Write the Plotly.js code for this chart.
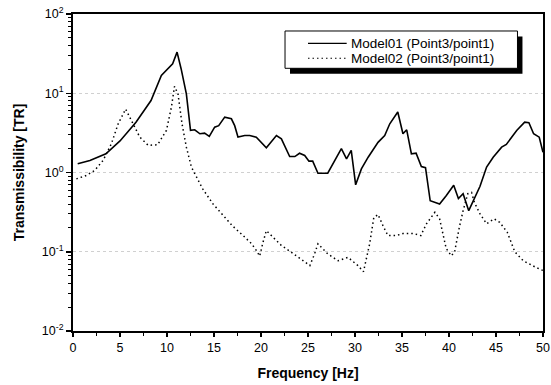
<!DOCTYPE html>
<html>
<head>
<meta charset="utf-8">
<script src="https://cdn.plot.ly/plotly-3.0.1.min.js"></script>
<style>html,body{margin:0;padding:0;background:#fff;}#chart{width:551px;height:385px;}</style>
</head>
<body>
<div id="chart"></div>
<script>
// Model01 (solid) frequency [Hz] and transmissibility
const freq01 = [0.5, 1.8, 3.5, 5.0, 6.7, 8.3, 9.4, 10.1, 10.6, 11.07, 11.5, 12.06, 12.5, 12.95, 13.5, 14.0, 14.5, 15.07, 15.5, 16.14, 16.85, 17.2, 17.55, 18.27, 18.8, 19.5, 20.57, 21.64, 22.17, 23.05, 23.6, 24.1, 24.65, 25.1, 25.5, 26.06, 27.1, 28.55, 29.1, 29.6, 30.07, 30.68, 31.4, 32.45, 33.16, 33.7, 34.55, 35.1, 35.5, 36.0, 36.5, 37.06, 37.5, 38.0, 39.0, 39.7, 40.5, 41.0, 41.5, 42.1, 42.8, 43.3, 44.0, 44.7, 45.6, 46.1, 47.2, 48.05, 48.5, 49.0, 49.6, 50.0];
const model01 = [1.29, 1.42, 1.72, 2.5, 4.3, 8.1, 16.8, 20.4, 23.6, 33, 20.4, 9.8, 3.4, 3.46, 3.08, 3.14, 2.85, 3.73, 3.9, 5.0, 4.76, 3.9, 2.8, 2.93, 2.93, 2.79, 2.05, 2.93, 2.66, 1.59, 1.59, 1.75, 1.64, 1.39, 1.39, 0.98, 0.98, 2.0, 1.49, 1.9, 0.70, 1.11, 1.56, 2.4, 2.93, 4.12, 5.8, 3.08, 3.46, 1.72, 1.75, 1.19, 1.15, 0.44, 0.40, 0.51, 0.69, 0.47, 0.54, 0.33, 0.50, 0.67, 1.17, 1.56, 2.09, 2.26, 3.39, 4.32, 4.25, 3.08, 2.79, 1.8];

// Model02 (dotted)
const freq02 = [0.36, 1.43, 2.3, 3.2, 4.08, 4.8, 5.6, 6.2, 7.1, 8.0, 9.0, 9.94, 10.47, 10.8, 11.17, 11.6, 12.06, 12.6, 13.3, 13.8, 14.9, 15.96, 17.0, 18.1, 19.0, 19.5, 19.86, 20.2, 20.57, 21.1, 22.17, 23.2, 24.3, 25.2, 25.7, 26.06, 27.1, 28.2, 29.26, 30.3, 30.9, 31.56, 32.0, 32.45, 33.0, 33.5, 34.4, 35.1, 36.2, 37.0, 37.6, 38.5, 39.0, 39.4, 39.7, 40.25, 40.6, 41.1, 41.5, 42.0, 42.4, 42.7, 43.3, 44.0, 44.8, 45.4, 46.2, 47.0, 47.9, 49.3, 50.0];
const model02 = [0.83, 0.92, 1.06, 1.42, 2.3, 4.1, 6.3, 4.5, 2.8, 2.2, 2.24, 3.4, 6.7, 12.2, 9.8, 4.1, 2.09, 1.17, 0.79, 0.62, 0.40, 0.29, 0.21, 0.16, 0.126, 0.104, 0.088, 0.13, 0.185, 0.16, 0.12, 0.099, 0.081, 0.067, 0.094, 0.126, 0.094, 0.077, 0.085, 0.067, 0.056, 0.126, 0.27, 0.295, 0.21, 0.16, 0.16, 0.17, 0.17, 0.16, 0.225, 0.315, 0.26, 0.15, 0.11, 0.089, 0.10, 0.204, 0.33, 0.54, 0.56, 0.42, 0.30, 0.225, 0.26, 0.235, 0.176, 0.10, 0.077, 0.063, 0.058];

const seriesNames = ['Model01 (Point3/point1)', 'Model02 (Point3/point1)'];
const yTickVals = [0.01, 0.1, 1, 10, 100];
const yTickText = ['10<sup>-2</sup>', '10<sup>-1</sup>', '10<sup>0</sup>', '10<sup>1</sup>', '10<sup>2</sup>'];
const xTickVals = [0, 5, 10, 15, 20, 25, 30, 35, 40, 45, 50];

// minor log ticks 2..9 in each decade
const yMinor = [];
for (let d = 0; d < yTickVals.length - 1; d++) {
  for (let m = 2; m <= 9; m++) yMinor.push(m * yTickVals[d]);
}

const FONT = 'Arial, "Liberation Sans", sans-serif';
const SOLID = {color: '#000', width: 1.6};
const DOTTED = {color: '#000', width: 1.5, dash: '1.5px,3px'};

const traces = [
  {x: freq01, y: model01, name: seriesNames[0], type: 'scatter', mode: 'lines', line: SOLID},
  {x: freq02, y: model02, name: seriesNames[1], type: 'scatter', mode: 'lines', line: DOTTED}
];

// legend box drawn in paper coordinates (with drop shadow like the original)
const legBox = {x0: 0.4511, x1: 0.9457, y0: 0.8287, y1: 0.9464};
const legShadow = {dx: 0.0106, dy: -0.0175};
const legRowsY = [0.9076, 0.8603];
const legLineX = [0.5, 0.5823];
const legTextX = 0.588;
const legStyles = [SOLID, DOTTED];

const shapes = [
  {type: 'rect', xref: 'paper', yref: 'paper', layer: 'above',
   x0: legBox.x0 + legShadow.dx, x1: legBox.x1 + legShadow.dx,
   y0: legBox.y0 + legShadow.dy, y1: legBox.y1 + legShadow.dy,
   fillcolor: '#000', line: {width: 0}},
  {type: 'rect', xref: 'paper', yref: 'paper', layer: 'above',
   x0: legBox.x0, x1: legBox.x1, y0: legBox.y0, y1: legBox.y1,
   fillcolor: '#fff', line: {color: '#000', width: 1}}
];
const annotations = [];
seriesNames.forEach((nm, i) => {
  shapes.push({type: 'line', xref: 'paper', yref: 'paper', layer: 'above',
    x0: legLineX[0], x1: legLineX[1], y0: legRowsY[i], y1: legRowsY[i],
    line: Object.assign({}, legStyles[i], {width: legStyles[i].width - 0.4})});
  annotations.push({xref: 'paper', yref: 'paper', x: legTextX, y: legRowsY[i],
    xanchor: 'left', yanchor: 'middle', showarrow: false, text: nm,
    font: {family: FONT, size: 13.5, color: '#000'}});
});

const layout = {
  width: 551, height: 385,
  margin: {l: 73, r: 8, t: 14, b: 54},
  paper_bgcolor: '#fff', plot_bgcolor: '#fff',
  font: {family: FONT, color: '#000', size: 12},
  showlegend: false,
  xaxis: {
    range: [0, 50], tickmode: 'array', tickvals: xTickVals,
    ticks: 'outside', ticklen: 4, tickwidth: 1.5, tickcolor: '#000',
    minor: {dtick: 2.5, tick0: 0, ticks: 'outside', ticklen: 3, tickwidth: 1.2, tickcolor: '#000'},
    showline: true, linecolor: '#000', linewidth: 2, mirror: true,
    showgrid: false, zeroline: false,
    tickfont: {family: FONT, size: 12.5, color: '#000'},
    title: {text: 'Frequency [Hz]', font: {family: FONT, size: 14, color: '#000', weight: 'bold'}, standoff: 14}
  },
  yaxis: {
    type: 'log', range: [-2, 2], tickmode: 'array', tickvals: yTickVals, ticktext: yTickText,
    ticks: 'outside', ticklen: 5, tickwidth: 1.5, tickcolor: '#000',
    minor: {tickmode: 'array', tickvals: yMinor, ticks: 'outside', ticklen: 3, tickwidth: 1, tickcolor: '#000', showgrid: false},
    showline: true, linecolor: '#000', linewidth: 2, mirror: true,
    showgrid: true, gridcolor: '#d0d0d0', gridwidth: 1, griddash: 'dot',
    zeroline: false,
    tickfont: {family: FONT, size: 12.5, color: '#000'},
    title: {text: 'Transmissibility [TR]', font: {family: FONT, size: 14, color: '#000', weight: 'bold'}, standoff: 14}
  },
  yaxis2: {
    type: 'log', range: [-2, 2], overlaying: 'y', side: 'right',
    tickmode: 'array', tickvals: yTickVals, showticklabels: false,
    ticks: 'inside', ticklen: 4, tickwidth: 1.2, tickcolor: '#000',
    minor: {tickmode: 'array', tickvals: yMinor, ticks: 'inside', ticklen: 2.5, tickwidth: 1, tickcolor: '#000'},
    showgrid: false, zeroline: false, showline: false
  },
  shapes: shapes,
  annotations: annotations
};

Plotly.newPlot('chart', traces, layout, {displayModeBar: false, staticPlot: true});
</script>
</body>
</html>
